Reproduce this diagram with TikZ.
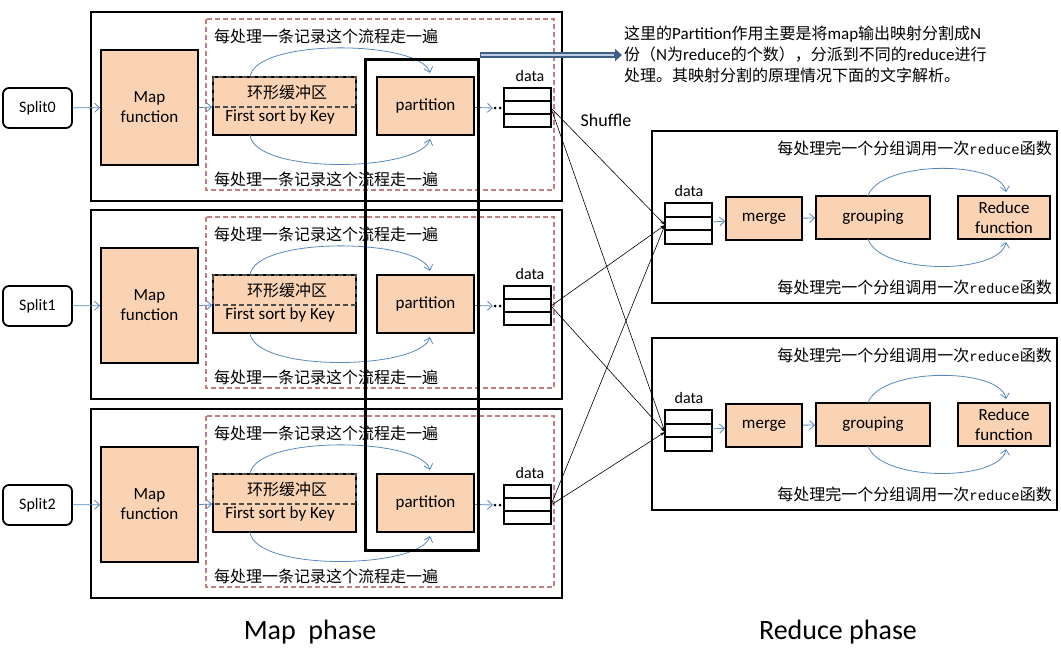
\documentclass[tikz,border=0pt]{standalone}
\usepackage{fontspec}
\setmainfont{Carlito}
\newfontfamily\cjk{Noto Sans CJK SC}
\newfontfamily\mono{Liberation Mono}
\usetikzlibrary{arrows.meta}
\definecolor{peach}{HTML}{FAD3B4}
\definecolor{ablue}{HTML}{5B86BC}
\definecolor{dred}{HTML}{C08080}
\begin{document}
\begin{tikzpicture}[x=1pt,y=-1pt,
  box/.style={draw,line width=1.8pt,fill=peach,inner sep=0pt,align=center,font=\fontsize{17}{20}\selectfont},
  outer/.style={draw,line width=1.8pt},
  ddash/.style={draw=dred,dash pattern=on 5pt off 3pt,line width=1.2pt},
  arr/.style={ablue,-{Straight Barb[length=5pt,width=9pt]},line width=0.8pt},
  cn/.style={font=\cjk\fontsize{16}{18}\selectfont,inner sep=0pt,anchor=west},
  sh/.style={-{Stealth[length=5pt,width=3pt]},line width=0.6pt}]
\useasboundingbox (0,0) rectangle (1061,656);
\foreach \i/\o in {0/0,1/198,2/397}{
  \begin{scope}[yshift=-\o]
  \draw[outer] (91,12) rectangle (562,201);
  \draw[ddash] (206,19) rectangle (554,190);
  \node[cn] at (214,36) {每处理一条记录这个流程走一遍};
  \node[cn] at (214,179) {每处理一条记录这个流程走一遍};
  \node[draw,line width=1.8pt,rounded corners=6pt,minimum width=69pt,minimum height=40pt,inner sep=0pt,font=\fontsize{16}{18}\selectfont] (s\i) at (37.5,108) {Split\i};
  \node[box,minimum width=97pt,minimum height=115pt] (m\i) at (149.5,107.5) {Map\\function};
  \node[box,minimum width=143pt,minimum height=58pt] (b\i) at (284.5,106) {};
  \draw[ddash,draw=black!70] (213,77) rectangle (356,107);
  \node[font=\cjk\fontsize{16}{18}\selectfont] at (287,92) {环形缓冲区};
  \node[font=\fontsize{17}{20}\selectfont] at (280,117) {First sort by Key};
  \node[box,minimum width=97pt,minimum height=58pt] (p\i) at (425.5,106) {partition};
  \draw[line width=1.8pt] (504,88) rectangle (551,127) (504,101) -- (551,101) (504,114) -- (551,114);
  \coordinate (do\i) at (551,108);
  \node[font=\fontsize{16}{18}\selectfont] at (530,76) {data};
  \fill (495,108) circle (1.5) (500,108) circle (1.5);
  \draw[arr] (s\i) -- (m\i);
  \draw[arr] (m\i.east) -- (b\i.west |- 0,107);
  \draw[arr] (p\i) -- (493,108);
  \draw[arr] (250,77) .. controls (255,38) and (420,40) .. (430,73);
  \draw[arr] (250,135) .. controls (255,175) and (420,172) .. (430,139);
  \end{scope}}
\draw[line width=3pt] (365,59) rectangle (478,550);
\foreach \j/\o in {1/0,2/207}{
  \begin{scope}[yshift=-\o]
  \draw[outer] (652,131) rectangle (1057,303);
  \node[cn,anchor=east] at (1052,148) {每处理完一个分组调用一次{\mono\fontsize{14}{16}\selectfont reduce}函数};
  \node[cn,anchor=east] at (1052,287) {每处理完一个分组调用一次{\mono\fontsize{14}{16}\selectfont reduce}函数};
  \draw[line width=1.8pt] (665,203) rectangle (712,244) (665,217) -- (712,217) (665,230) -- (712,230);
  \coordinate (r\j) at (665,225);
  \node[font=\fontsize{16}{18}\selectfont] at (689,191) {data};
  \node[box,minimum width=76pt,minimum height=43pt] (mg\j) at (764,218.5) {merge};
  \node[box,minimum width=114pt,minimum height=43pt] (g\j) at (873,217.5) {grouping};
  \node[box,minimum width=92pt,minimum height=43pt] (rf\j) at (1004,217.5) {Reduce\\function};
  \draw[arr] (712,222) -- (mg\j);
  \draw[arr] (mg\j) -- (g\j);
  \draw[arr] (868,196) .. controls (880,160) and (1000,160) .. (1006,192);
  \draw[arr] (868,239) .. controls (880,275) and (1000,275) .. (1006,242);
  \end{scope}}
\foreach \i in {0,1,2}{
  \draw[sh] (do\i) -- (r1);
  \draw[sh] (do\i) -- (r2);}
\node[font=\fontsize{18}{20}\selectfont] at (606,120) {Shuffle};
\draw[ablue!70!black,line width=6pt,-{Triangle[length=7pt,width=12pt]}] (480,55) -- (622,55);
\draw[ablue!40,line width=2pt] (481,55) -- (614,55);
\begin{scope}[font=\cjk\fontsize{16}{18}\selectfont]
\node[anchor=west,inner sep=0pt] at (624,34) {这里的{\rmfamily\fontsize{17}{19}\selectfont Partition}作用主要是将{\rmfamily\fontsize{17}{19}\selectfont map}输出映射分割成{\rmfamily\fontsize{17}{19}\selectfont N}};
\node[anchor=west,inner sep=0pt] at (624,55) {份（{\rmfamily\fontsize{17}{19}\selectfont N}为{\rmfamily\fontsize{17}{19}\selectfont reduce}的个数），分派到不同的{\rmfamily\fontsize{17}{19}\selectfont reduce}进行};
\node[anchor=west,inner sep=0pt] at (624,75) {处理。其映射分割的原理情况下面的文字解析。};
\end{scope}
\node[font=\fontsize{28}{32}\selectfont] at (310,632) {Map\ \ phase};
\node[font=\fontsize{28}{32}\selectfont] at (838,632) {Reduce phase};
\end{tikzpicture}
\end{document}
